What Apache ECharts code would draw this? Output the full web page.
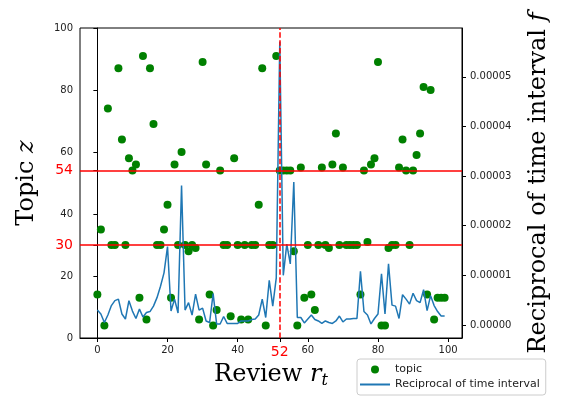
<!DOCTYPE html>
<html>
<head>
<meta charset="utf-8">
<script src="https://cdn.jsdelivr.net/npm/echarts@6/dist/echarts.min.js"></script>
<style>
html,body{margin:0;padding:0;background:#fff;}
#main{width:571px;height:398px;}
</style>
</head>
<body>
<div id="main"></div>
<script>
// topic z of each review (index = review r_t)
var topic = [14,35,4,74,30,30,87,64,30,58,
             54,56,13,91,6,87,69,30,30,35,
             43,13,56,30,60,30,28,30,29,6,
             89,56,14,4,9,54,30,30,7,58,
             30,6,30,6,30,30,43,87,4,30,
             30,91,54,54,54,54,28,4,55,13,
             30,14,9,30,55,30,29,56,66,30,
             55,30,30,30,30,14,54,31,56,58,
             89,4,4,29,30,30,55,64,54,30,
             54,59,66,81,14,80,6,13,13,13];
// reciprocal of time interval, in units of 1e-5
var reciprocal = [0.30,0.22,0.05,0.20,0.39,0.49,0.52,0.22,0.12,0.49,
                  0.28,0.13,0.32,0.16,0.25,0.27,0.38,0.55,0.78,1.05,
                  1.58,0.28,0.52,0.24,2.81,0.30,0.45,0.20,0.62,0.30,
                  0.34,0.08,0.05,0.63,0.02,0.02,0.17,0.03,0.03,0.03,
                  0.03,0.08,0.08,0.08,0.11,0.12,0.20,0.52,0.15,0.90,
                  0.38,0.95,5.71,1.00,1.63,1.23,2.88,0.15,0.15,0.04,
                  0.12,0.20,0.11,0.08,0.03,0.08,0.05,0.03,0.08,0.18,
                  0.06,0.12,0.12,0.13,0.13,1.08,0.27,0.20,0.02,0.13,
                  0.22,1.03,0.22,1.23,0.40,0.38,0.13,0.61,0.52,0.42,
                  0.64,0.49,0.45,0.71,0.29,0.59,0.39,0.27,0.18,0.18];

var xTicks = [0,20,40,52,60,80,100];
var leftTicks = [0,20,30,40,54,60,80,100];
var rightTicks = [0,1,2,3,4,5];
var hLines = [30,54];   // red thresholds on topic axis
var vLine = 52;         // red dashed review
var redTicks = [30,52,54];

var topicData = topic.map(function (v, i) { return [i, v]; });
var recData = reciprocal.map(function (v, i) { return [i, v]; });

var labelFont = 'DejaVu Sans';
var serif = 'DejaVu Serif';

function tickFmt(v) {
    return redTicks.indexOf(v) >= 0 ? '{r|' + v + '}' : String(v);
}
var redRich = { r: { color: '#ff0000', fontSize: 14, fontFamily: labelFont } };

var myChart = echarts.init(document.getElementById('main'));
var option = {
    animation: false,
    grid: { left: 80, right: 109, top: 28, bottom: 60, show: true, borderColor: '#000', borderWidth: 1, backgroundColor: 'transparent' },
    legend: {
        orient: 'vertical',
        left: 357, top: 359,
        itemWidth: 30, itemHeight: 8, itemGap: 4,
        padding: [5, 6, 5, 3],
        borderColor: '#cccccc', borderWidth: 1, borderRadius: 3,
        backgroundColor: '#fff',
        symbolKeepAspect: true,
        textStyle: { fontFamily: labelFont, fontSize: 11, color: '#222' },
        data: [
            { name: 'topic', icon: 'circle' },
            { name: 'Reciprocal of time interval', icon: 'path://M0,0L30,0L30,2L0,2Z', itemStyle: { color: '#1f77b4' } }
        ]
    },
    xAxis: {
        type: 'value', min: -4.95, max: 103.95,
        axisLine: { show: true, lineStyle: { color: '#000' } },
        axisTick: { show: true, length: 4, customValues: xTicks, lineStyle: { color: '#000' } },
        axisLabel: { customValues: xTicks, formatter: tickFmt, rich: redRich, margin: 7, fontSize: 10, fontFamily: labelFont, color: '#222' },
        splitLine: { show: false }
    },
    yAxis: [{
        type: 'value', min: 0, max: 100, position: 'left',
        axisLine: { show: true, lineStyle: { color: '#000' } },
        axisTick: { show: true, length: 4, customValues: leftTicks, lineStyle: { color: '#000' } },
        axisLabel: { customValues: leftTicks, formatter: tickFmt, rich: redRich, margin: 7, fontSize: 10, fontFamily: labelFont, color: '#222' },
        splitLine: { show: false }
    }, {
        type: 'value', min: -0.263, max: 5.985, position: 'right',
        axisLine: { show: true, lineStyle: { color: '#000' } },
        axisTick: { show: true, length: 4, customValues: rightTicks, lineStyle: { color: '#000' } },
        axisLabel: {
            customValues: rightTicks, margin: 8, fontSize: 10, fontFamily: labelFont, color: '#222',
            formatter: function (v) { return (v / 1e5).toFixed(5); }
        },
        splitLine: { show: false }
    }],
    series: [{
        name: 'topic',
        type: 'scatter',
        yAxisIndex: 0,
        symbolSize: 8,
        itemStyle: { color: '#008000', opacity: 1 },
        data: topicData,
        z: 2,
        markLine: {
            silent: true, symbol: ['none', 'none'], label: { show: false },
            lineStyle: { color: '#ff0000', width: 1.5, type: 'solid' },
            data: hLines.map(function (h) { return { yAxis: h }; })
        }
    }, {
        name: 'Reciprocal of time interval',
        type: 'line',
        yAxisIndex: 1,
        symbol: 'none',
        lineStyle: { color: '#1f77b4', width: 1.5 },
        itemStyle: { color: '#1f77b4' },
        data: recData,
        z: 3,
        markLine: {
            silent: true, symbol: ['none', 'none'], label: { show: false },
            lineStyle: { color: '#ff0000', width: 1.5, type: [5.5, 2.4] },
            data: [{ xAxis: vLine }]
        }
    }],
    graphic: [{
        type: 'text', x: 27, y: 183, rotation: Math.PI / 2,
        style: {
            text: '{a|Topic }{b|z}', align: 'center', verticalAlign: 'middle',
            rich: {
                a: { fontFamily: serif, fontSize: 24, fill: '#000' },
                b: { fontFamily: serif, fontStyle: 'italic', fontSize: 24, fill: '#000' }
            }
        }
    }, {
        type: 'text', x: 271, y: 375,
        style: {
            text: '{a|Review }{b|r}{c|t}', align: 'center', verticalAlign: 'middle',
            rich: {
                a: { fontFamily: serif, fontSize: 24, lineHeight: 28, fill: '#000' },
                b: { fontFamily: serif, fontStyle: 'italic', fontSize: 24, lineHeight: 28, fill: '#000' },
                c: { fontFamily: serif, fontStyle: 'italic', fontSize: 16, lineHeight: 10, verticalAlign: 'bottom', fill: '#000' }
            }
        }
    }, {
        type: 'text', x: 539, y: 183, rotation: Math.PI / 2,
        style: {
            text: '{a|Reciprocal of time interval }{b|f}', align: 'center', verticalAlign: 'middle',
            rich: {
                a: { fontFamily: serif, fontSize: 24, fill: '#000' },
                b: { fontFamily: serif, fontStyle: 'italic', fontSize: 24, fill: '#000' }
            }
        }
    }]
};
myChart.setOption(option);
</script>
</body>
</html>
